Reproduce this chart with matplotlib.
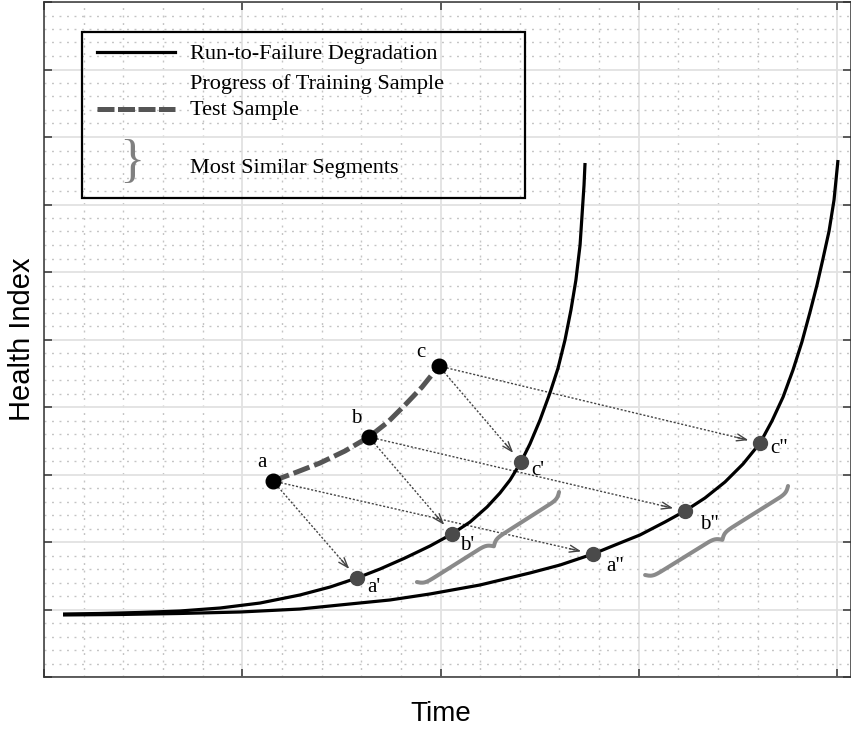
import matplotlib
matplotlib.use("Agg")
import numpy as np
import matplotlib.pyplot as plt
from matplotlib.transforms import Affine2D
from matplotlib.patches import Rectangle
from matplotlib.lines import Line2D
from matplotlib.ticker import MultipleLocator, NullFormatter

# ---------------- data ----------------
train1_x = [0.096, 0.282, 0.484, 0.686, 0.888, 1.090, 1.291, 1.443, 1.579, 1.695,
            1.821, 1.947, 2.058, 2.149, 2.235, 2.300, 2.351, 2.406, 2.451, 2.502,
            2.552, 2.593, 2.628, 2.658, 2.683, 2.704, 2.714, 2.724, 2.729]
train1_y = [0.933, 0.941, 0.956, 0.978, 1.022, 1.096, 1.215, 1.333, 1.467, 1.600,
            1.763, 1.941, 2.119, 2.296, 2.519, 2.726, 2.919, 3.185, 3.452, 3.807,
            4.207, 4.578, 4.993, 5.437, 5.881, 6.400, 6.844, 7.289, 7.615]

train2_x = [0.096, 0.383, 0.686, 0.989, 1.291, 1.493, 1.745, 1.947, 2.199, 2.451,
            2.603, 2.769, 2.905, 3.006, 3.132, 3.233, 3.334, 3.435, 3.526, 3.612,
            3.672, 3.728, 3.778, 3.823, 3.864, 3.899, 3.929, 3.960, 3.985, 4.005]
train2_y = [0.919, 0.926, 0.941, 0.963, 1.007, 1.067, 1.141, 1.230, 1.363, 1.541,
            1.659, 1.822, 1.985, 2.104, 2.296, 2.459, 2.652, 2.889, 3.156, 3.467,
            3.793, 4.148, 4.548, 4.963, 5.407, 5.807, 6.193, 6.607, 7.067, 7.659]

test_x = [1.155, 1.276, 1.392, 1.518, 1.639, 1.735, 1.821, 1.907, 1.992]
test_y = [2.904, 3.037, 3.170, 3.348, 3.556, 3.778, 4.030, 4.296, 4.607]

test_pts_x = [1.155, 1.639, 1.992]
test_pts_y = [2.904, 3.556, 4.607]
test_labels = ["a", "b", "c"]

match1_x = [1.579, 2.058, 2.406]
match1_y = [1.467, 2.119, 3.185]
match1_labels = ["a'", "b'", "c'"]

match2_x = [2.769, 3.233, 3.612]
match2_y = [1.822, 2.459, 3.467]
match2_labels = ['a"', 'b"', 'c"']

brace1 = [(1.881, 1.407), (2.598, 2.741)]
brace2 = [(3.032, 1.511), (3.753, 2.830)]

legend_labels = ["Run-to-Failure Degradation", "Progress of Training Sample",
                 "Test Sample", "Most Similar Segments"]

# ---------------- figure ----------------
W, H = 851, 731
fig = plt.figure(figsize=(W / 100, H / 100), dpi=100)
ax = fig.add_axes([44 / W, (H - 677) / H, (851 - 44) / W, (677 - 2) / H])
XMAX = 807 / 198.25
ax.set_xlim(0, XMAX)
ax.set_ylim(0, 10)

ax.xaxis.set_major_locator(MultipleLocator(1))
ax.xaxis.set_minor_locator(MultipleLocator(0.2))
ax.yaxis.set_major_locator(MultipleLocator(1))
ax.yaxis.set_minor_locator(MultipleLocator(0.2))
ax.xaxis.set_major_formatter(NullFormatter())
ax.yaxis.set_major_formatter(NullFormatter())
ax.tick_params(which="major", direction="in", length=6, width=1.1, color="#333333",
               top=True, right=True)
ax.tick_params(which="minor", length=0)
ax.grid(which="major", color="#e2e2e2", lw=1.3, ls="-")
ax.grid(which="minor", color="#c4c4c4", lw=1.0, ls=(0, (1.4, 4.0)))
ax.set_axisbelow(True)
for sp in ax.spines.values():
    sp.set_color("#333333")
    sp.set_linewidth(1.1)

ax.set_xlabel("Time", fontsize=20, family="Liberation Sans")
ax.xaxis.label.set_va("center")
ax.xaxis.set_label_coords(2 / XMAX, (677 - 714) / 675)
ax.set_ylabel("Health Index", fontsize=21, family="Liberation Sans")
ax.yaxis.label.set_va("center")
ax.yaxis.set_label_coords((22 - 44) / 807, 0.5)

SERIF = "Liberation Serif"

# curves
ax.plot(train1_x, train1_y, color="black", lw=2.3, solid_capstyle="butt",
        solid_joinstyle="round", zorder=3)
ax.plot(train2_x, train2_y, color="black", lw=2.3, solid_capstyle="butt",
        solid_joinstyle="round", zorder=3)
ax.plot(test_x, test_y, color="#555555", lw=3.6, ls=(0, (3.4, 1.0)), zorder=3)

# arrows (dotted shaft + solid open head)
to_data = ax.transData.inverted()


def arrow(p, q):
    P = ax.transData.transform(p)
    Q = ax.transData.transform(q)
    d = Q - P
    u = d / np.hypot(*d)
    s = P + u * 8
    e = Q - u * 12
    sd = to_data.transform(s)
    ed = to_data.transform(e - u * 1.5)
    ax.plot([sd[0], ed[0]], [sd[1], ed[1]], color="#444444", lw=1.0,
            ls=(0, (1.5, 1.3)), zorder=2)
    hd = to_data.transform(e)
    hs = to_data.transform(e - u * 12)
    ax.annotate("", xy=hd, xytext=hs,
                arrowprops=dict(arrowstyle="->,head_length=0.7,head_width=0.25",
                                color="#444444", lw=1.0, shrinkA=0, shrinkB=0),
                zorder=2)


for i in range(3):
    arrow((test_pts_x[i], test_pts_y[i]), (match1_x[i], match1_y[i]))
    arrow((test_pts_x[i], test_pts_y[i]), (match2_x[i], match2_y[i]))


# braces
def brace(p1, p2, s=11.0, beta=0.35):
    P1 = ax.transData.transform(p1)
    P2 = ax.transData.transform(p2)
    d = P2 - P1
    L = np.hypot(*d)
    u = d / L
    n = np.array([u[1], -u[0]])
    t = np.linspace(0, L / 2, 200)
    half = 1 / (1 + np.exp(-beta * (t - t[0]))) + 1 / (1 + np.exp(-beta * (t - t[-1])))
    off = np.concatenate([half, half[::-1]]) - 0.5
    along = np.concatenate([t, L - t[::-1]])
    pts = P1 + np.outer(along, u) + np.outer(off * s, n)
    dp = to_data.transform(pts)
    ax.plot(dp[:, 0], dp[:, 1], color="#8a8a8a", lw=2.9, solid_capstyle="round", zorder=2)


brace(*brace1)
brace(*brace2)

# markers
ax.plot(test_pts_x, test_pts_y, "o", color="black", ms=10.5, zorder=5)
ax.plot(match1_x, match1_y, "o", color="#4a4a4a", ms=10.0, zorder=5)
ax.plot(match2_x, match2_y, "o", color="#4a4a4a", ms=10.0, zorder=5)

test_off = [(-8, 13), (-9, 13), (-13, 10)]
m1_off = [(12, -7), (11, -8), (12, -6)]
m2_off = [(16, -9), (18, -10), (14, -4)]
for i in range(3):
    ax.annotate(test_labels[i], (test_pts_x[i], test_pts_y[i]), xytext=test_off[i],
                textcoords="offset points", ha="center", va="center",
                fontsize=15, family=SERIF)
    ax.annotate(match1_labels[i], (match1_x[i], match1_y[i]), xytext=m1_off[i],
                textcoords="offset points", ha="center", va="center",
                fontsize=15, family=SERIF)
    ax.annotate(match2_labels[i], (match2_x[i], match2_y[i]), xytext=m2_off[i],
                textcoords="offset points", ha="center", va="center",
                fontsize=15, family=SERIF)

# legend drawn manually in pixel coordinates
px = Affine2D().scale(1 / W, -1 / H).translate(0, 1) + fig.transFigure
fig.add_artist(Rectangle((82, 32), 443, 166, transform=px, fill=False,
                         ec="black", lw=1.6))
fig.add_artist(Line2D([97, 175], [52, 52], transform=px, color="black", lw=2.3))
fig.add_artist(Line2D([97, 175], [109, 109], transform=px, color="#555555", lw=3.6,
                      ls=(0, (3.4, 0.7))))
rows_y = [54, 84, 111, 168]
for lab, yy in zip(legend_labels, rows_y):
    fig.text(190 / W, 1 - yy / H, lab, ha="left", va="center", fontsize=16,
             family=SERIF)
fig.text(132 / W, 1 - 163 / H, "}", ha="center", va="center", fontsize=38,
         family=SERIF, color="#808080")

fig.savefig("out.png", dpi=100)
